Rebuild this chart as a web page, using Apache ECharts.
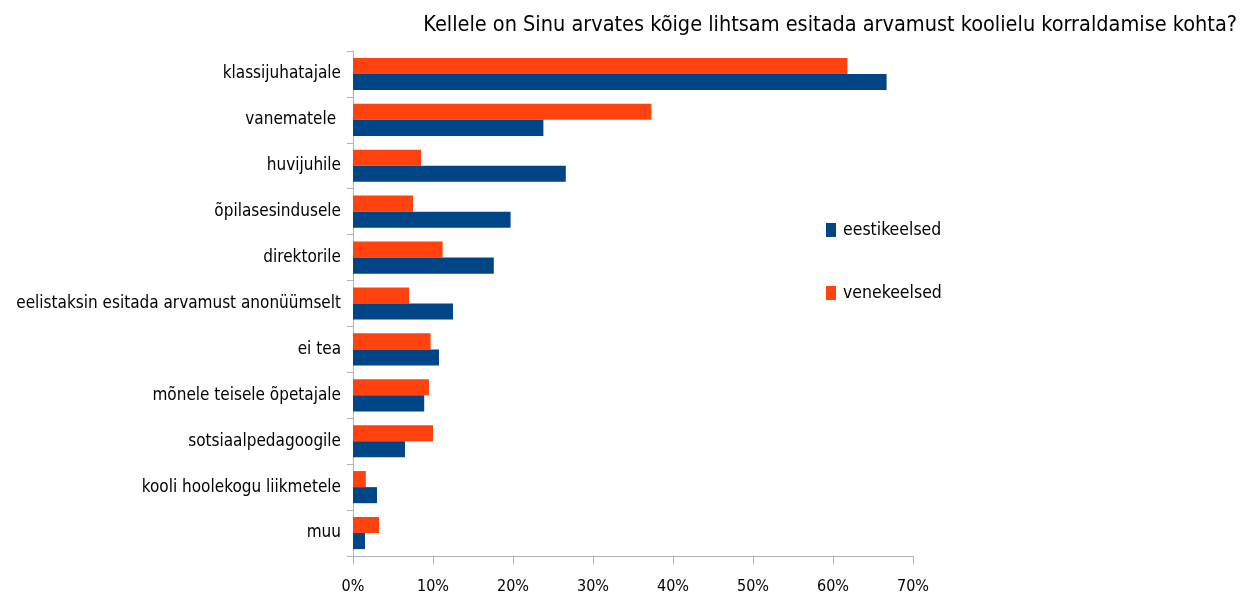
<!DOCTYPE html>
<html><head><meta charset="utf-8">
<script src="https://cdn.jsdelivr.net/npm/echarts@6/dist/echarts.min.js"></script>
<style>html,body{margin:0;padding:0;background:#fff}#c{width:1247px;height:599px}</style>
</head><body><div id="c"></div>
<script>
const categories = ["klassijuhatajale","vanematele ","huvijuhile","õpilasesindusele","direktorile","eelistaksin esitada arvamust anonüümselt","ei tea","mõnele teisele õpetajale","sotsiaalpedagoogile","kooli hoolekogu liikmetele","muu"];
const venekeelsed = [61.8,37.3,8.5,7.5,11.2,7.0,9.7,9.5,10.0,1.6,3.25];
const eestikeelsed = [66.7,23.8,26.6,19.7,17.6,12.5,10.75,8.9,6.5,3.0,1.5];
const xTicks = [0,10,20,30,40,50,60,70];
const FONT = '"Liberation Sans Narrow","DejaVu Sans Condensed","Liberation Sans",sans-serif';
const chart = echarts.init(document.getElementById('c'));
chart.setOption({
  animation:false,
  title:{text:"Kellele on Sinu arvates kõige lihtsam esitada arvamust koolielu korraldamise kohta?",
    right:5, top:9, textStyle:{fontFamily:FONT,fontSize:21.5,fontWeight:'normal',color:'#000'}},
  legend:{orient:'vertical', left:821, top:216, itemGap:45, itemWidth:10, itemHeight:14,
    icon:'rect', data:['eestikeelsed','venekeelsed'],
    textStyle:{fontFamily:FONT,fontSize:17.5,color:'#000',padding:[0,0,0,2]}},
  grid:{left:353, right:334, top:51, bottom:43, outerBoundsMode:'none', containLabel:false},
  xAxis:{type:'value', min:0, max:xTicks[xTicks.length-1], interval:10,
    axisLine:{show:true,lineStyle:{color:'#b3b3b3'}},
    axisTick:{show:true,length:8,lineStyle:{color:'#b3b3b3'}},
    splitLine:{show:false},
    axisLabel:{formatter:v=>v+'%', fontFamily:FONT,fontSize:16,color:'#000',margin:23}},
  yAxis:{type:'category', data:categories, inverse:true,
    axisLine:{show:true,lineStyle:{color:'#b3b3b3'}},
    axisTick:{show:true,length:6,lineStyle:{color:'#b3b3b3'}},
    axisLabel:{fontFamily:FONT,fontSize:17,color:'#000',margin:12}},
  series:[
    {name:'venekeelsed', type:'bar', data:venekeelsed, itemStyle:{color:'#ff420e'}, barGap:'0%', barCategoryGap:'30%'},
    {name:'eestikeelsed', type:'bar', data:eestikeelsed, itemStyle:{color:'#004586'}, barGap:'0%', barCategoryGap:'30%'}
  ]
});
</script></body></html>
